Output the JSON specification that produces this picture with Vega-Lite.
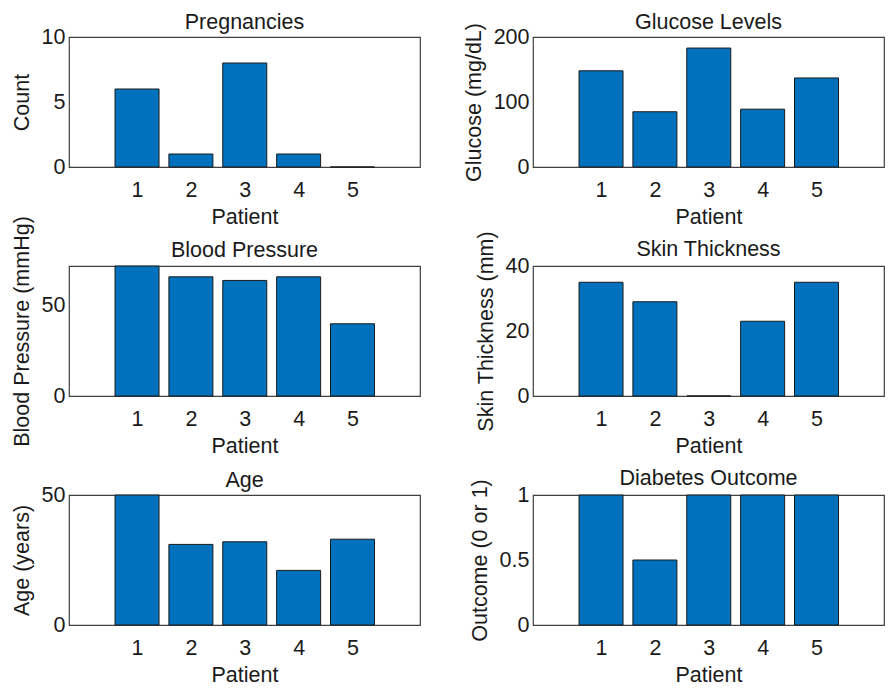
{
  "$schema": "https://vega.github.io/schema/vega-lite/v6.json",
  "padding": {"left": 10, "top": 10, "right": 0, "bottom": 0},
  "background": "white",
  "config": {
    "font": "Liberation Sans",
    "view": {"stroke": "#404040", "strokeWidth": 1.2},
    "axis": {"domain": false, "grid": false, "ticks": false, "labelFontSize": 21.5, "titleFontSize": 21.5, "labelColor": "#1a1a1a", "titleColor": "#1a1a1a", "titleFontWeight": "normal", "labelFlush": false, "titleLimit": 600},
    "axisX": {"labelPadding": 12, "titlePadding": 6, "labelAngle": 0},
    "axisY": {"labelPadding": 4, "titlePadding": 8, "format": ".1~f"},
    "title": {"fontSize": 21.5, "fontWeight": "normal", "color": "#1a1a1a", "baseline": "alphabetic"},
    "bar": {"color": "#0072BD", "stroke": "#1a1a1a", "strokeWidth": 1, "width": 44}
  },
  "data": {"values": [
    {"patient": 1, "pregnancies": 6, "glucose": 148, "bp": 72, "skin": 35, "age": 50, "outcome": 1},
    {"patient": 2, "pregnancies": 1, "glucose": 85, "bp": 66, "skin": 29, "age": 31, "outcome": 0.5},
    {"patient": 3, "pregnancies": 8, "glucose": 183, "bp": 64, "skin": 0, "age": 32, "outcome": 1},
    {"patient": 4, "pregnancies": 1, "glucose": 89, "bp": 66, "skin": 23, "age": 21, "outcome": 1},
    {"patient": 5, "pregnancies": 0, "glucose": 137, "bp": 40, "skin": 35, "age": 33, "outcome": 1}
  ]},
  "columns": 2,
  "spacing": {"row": 99, "column": 113},
  "bounds": "flush",
  "concat": [
    {
      "width": 351, "height": 130, "title": {"text": "Pregnancies", "offset": -7}, "mark": "bar",
      "encoding": {
        "x": {"field": "patient", "type": "quantitative", "scale": {"domain": [-0.17, 6.16], "nice": false, "zero": false}, "axis": {"values": [1, 2, 3, 4, 5], "title": "Patient"}},
        "y": {"field": "pregnancies", "type": "quantitative", "scale": {"domain": [0, 10], "nice": false}, "axis": {"values": [0, 5, 10], "title": "Count"}}
      }
    },
    {
      "width": 351, "height": 130, "title": {"text": "Glucose Levels", "offset": -11}, "mark": "bar",
      "encoding": {
        "x": {"field": "patient", "type": "quantitative", "scale": {"domain": [-0.17, 6.16], "nice": false, "zero": false}, "axis": {"values": [1, 2, 3, 4, 5], "title": "Patient"}},
        "y": {"field": "glucose", "type": "quantitative", "scale": {"domain": [0, 200], "nice": false}, "axis": {"values": [0, 100, 200], "title": "Glucose (mg/dL)"}}
      }
    },
    {
      "width": 351, "height": 130, "title": {"text": "Blood Pressure", "offset": -46}, "mark": "bar",
      "encoding": {
        "x": {"field": "patient", "type": "quantitative", "scale": {"domain": [-0.17, 6.16], "nice": false, "zero": false}, "axis": {"values": [1, 2, 3, 4, 5], "title": "Patient"}},
        "y": {"field": "bp", "type": "quantitative", "scale": {"domain": [0, 72], "nice": false}, "axis": {"values": [0, 50], "title": "Blood Pressure (mmHg)"}}
      }
    },
    {
      "width": 351, "height": 130, "title": {"text": "Skin Thickness", "offset": -30}, "mark": "bar",
      "encoding": {
        "x": {"field": "patient", "type": "quantitative", "scale": {"domain": [-0.17, 6.16], "nice": false, "zero": false}, "axis": {"values": [1, 2, 3, 4, 5], "title": "Patient"}},
        "y": {"field": "skin", "type": "quantitative", "scale": {"domain": [0, 40], "nice": false}, "axis": {"values": [0, 20, 40], "title": "Skin Thickness (mm)"}}
      }
    },
    {
      "width": 351, "height": 130, "title": {"text": "Age", "offset": -7}, "mark": "bar",
      "encoding": {
        "x": {"field": "patient", "type": "quantitative", "scale": {"domain": [-0.17, 6.16], "nice": false, "zero": false}, "axis": {"values": [1, 2, 3, 4, 5], "title": "Patient"}},
        "y": {"field": "age", "type": "quantitative", "scale": {"domain": [0, 50], "nice": false}, "axis": {"values": [0, 50], "title": "Age (years)"}}
      }
    },
    {
      "width": 351, "height": 130, "title": {"text": "Diabetes Outcome", "offset": -11}, "mark": "bar",
      "encoding": {
        "x": {"field": "patient", "type": "quantitative", "scale": {"domain": [-0.17, 6.16], "nice": false, "zero": false}, "axis": {"values": [1, 2, 3, 4, 5], "title": "Patient"}},
        "y": {"field": "outcome", "type": "quantitative", "scale": {"domain": [0, 1], "nice": false}, "axis": {"values": [0, 0.5, 1], "title": "Outcome (0 or 1)"}}
      }
    }
  ]
}
